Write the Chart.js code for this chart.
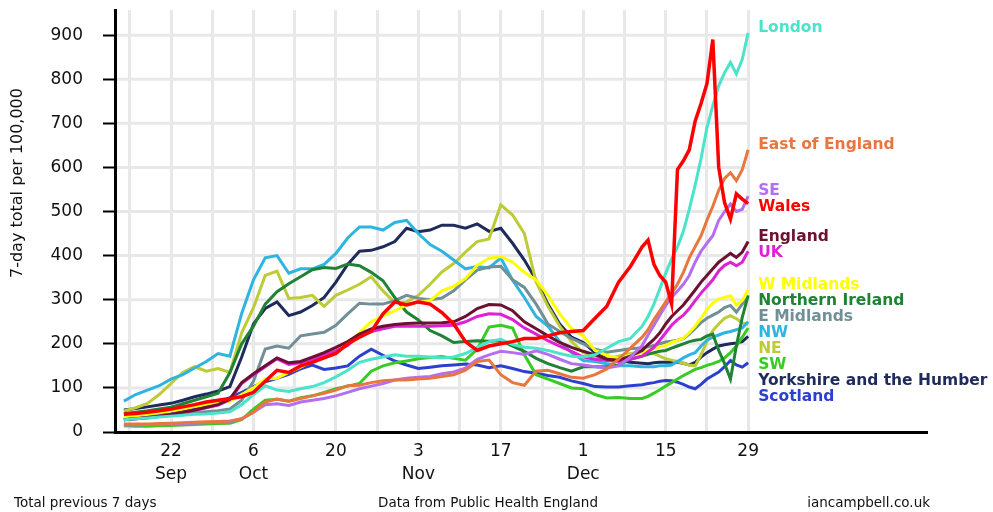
<!DOCTYPE html>
<html><head><meta charset="utf-8">
<script src="https://cdn.jsdelivr.net/npm/chart.js@4.4.1/dist/chart.umd.min.js"></script>
<style>html,body{margin:0;padding:0;background:#fff;}#wrap{width:993px;height:512px;position:relative;}</style>
</head><body><div id="wrap"><canvas id="c" width="993" height="512"></canvas></div>
<script>
// x values: days since 1 Sep 2020 (2-day steps to 9 Dec, then daily to 29 Dec)
const days = [13,15,17,19,21,23,25,27,29,31,33,35,37,39,41,43,45,47,49,51,53,55,57,59,61,63,65,67,69,71,73,75,77,79,81,83,85,87,89,91,93,95,97,99,
  101,102,103,104,105,106,107,108,109,110,111,112,113,114,115,116,117,118,119];

const london = [28,30,32,34,36,38,40,41,43,46,62,85,105,95,92,98,103,112,125,140,158,165,170,175,172,172,170,168,170,178,192,205,210,198,192,190,185,178,172,170,175,190,205,212,
  240,262,290,325,360,392,420,455,505,560,620,690,740,785,815,838,812,845,905];
const wales = [40,42,45,48,52,57,62,68,72,76,80,90,115,140,135,150,158,168,178,200,215,228,268,295,288,295,290,271,245,205,185,195,200,205,212,212,218,225,228,230,258,285,340,375,
  420,435,380,355,340,290,595,615,640,705,745,790,890,600,520,483,540,528,518];
const eastOfEngland = [18,18,18,19,20,21,22,23,24,25,30,45,68,75,70,76,82,88,95,105,106,112,116,118,118,120,122,126,130,140,160,163,130,112,106,138,140,132,124,122,130,143,165,190,
  215,232,255,275,295,315,335,362,395,420,445,480,512,548,575,588,570,595,640];
const southEast = [16,16,17,17,18,19,20,21,22,23,30,45,62,64,60,68,72,76,82,90,98,104,110,118,122,124,126,132,136,145,165,175,183,180,176,184,176,165,155,152,148,145,150,170,
  196,220,242,265,287,305,320,335,355,385,410,428,445,480,500,517,500,505,535];
const england = [28,30,33,36,40,45,50,56,62,75,112,132,150,168,157,160,170,180,192,205,222,234,240,244,246,247,247,248,250,262,280,289,288,275,250,234,218,203,192,183,175,165,163,172,
  185,198,210,225,245,262,275,288,305,322,340,355,370,385,395,405,396,408,432];
const uk = [28,30,32,35,39,44,49,55,61,73,110,130,148,166,153,157,165,174,184,196,220,228,234,240,240,240,240,241,242,250,262,268,267,255,236,222,207,195,183,170,165,162,160,165,
  172,182,192,208,225,242,255,265,280,298,315,330,345,365,378,385,377,385,410];
const wMidlands = [35,37,40,44,48,52,58,62,66,70,85,100,120,122,135,147,160,170,185,200,225,250,263,275,288,294,298,320,330,348,378,394,398,385,362,345,310,268,235,218,185,174,167,174,
  181,185,189,193,196,203,208,213,225,240,258,278,292,302,305,309,288,298,322];
const northernIreland = [42,45,48,52,56,64,72,80,88,135,200,240,290,318,336,352,368,373,371,381,377,362,343,305,272,254,230,218,203,205,207,206,207,195,183,167,155,146,138,148,148,148,152,165,
  172,176,180,183,185,190,195,200,205,208,210,218,222,185,155,120,195,260,310];
const eMidlands = [32,34,36,38,40,42,44,46,48,52,72,115,188,195,190,218,222,226,242,268,292,290,290,298,310,303,300,304,320,345,367,374,376,345,328,290,245,228,212,200,188,181,185,189,
  191,193,196,200,204,206,208,212,222,235,248,258,265,272,282,287,272,290,305];
const northWest = [70,85,95,105,120,130,145,160,178,172,269,345,395,400,360,370,370,380,405,440,465,465,458,475,480,450,425,410,390,370,375,372,395,344,305,262,240,205,180,162,160,155,150,150,
  148,148,148,150,150,152,160,168,175,180,195,208,215,220,225,228,232,236,250];
const northEast = [48,55,65,85,110,135,148,138,144,135,225,282,355,365,303,305,310,285,310,322,335,352,320,293,295,310,335,363,382,408,432,438,515,492,450,340,285,240,205,180,172,166,172,178,
  181,180,178,172,166,163,160,156,152,150,175,205,230,245,258,264,257,247,244];
const southWest = [14,13,13,14,15,16,17,18,19,20,28,52,72,74,70,78,82,90,98,104,110,138,150,157,161,166,169,171,167,163,188,238,242,236,175,130,120,110,100,98,85,77,78,76,
  76,81,88,96,104,112,120,128,135,142,146,151,155,160,168,180,195,215,236];
const yorkshire = [50,53,57,61,65,72,80,86,93,103,170,245,280,295,264,272,287,305,340,380,410,412,420,432,462,454,458,469,469,462,472,455,462,428,390,345,290,245,215,203,180,166,162,158,
  156,155,157,158,158,158,158,156,152,158,170,180,188,195,198,200,202,205,217];
const scotland = [28,31,35,38,41,46,52,57,65,78,90,103,114,122,131,143,152,142,145,150,172,188,174,161,152,144,147,150,152,154,152,146,150,144,137,133,128,124,116,110,103,102,102,105,
  107,110,112,115,117,116,113,108,102,98,108,120,128,136,148,162,152,147,157];

const seriesNames = ['Wales','London','East of England','SE','England','UK','W Midlands','Northern Ireland','E Midlands','NW','NE','SW','Yorkshire and the Humber','Scotland'];
const seriesValues = [wales,london,eastOfEngland,southEast,england,uk,wMidlands,northernIreland,eMidlands,northWest,northEast,southWest,yorkshire,scotland];
const seriesColors = ['#FF0000','#4BE3C9','#E8773F','#B56EF0','#6C1131','#DD22D6','#FFFF00','#1F8234','#708F96','#2EB4E0','#BCCB36','#37CB24','#1E2B5B','#2C40CF'];

const gridDays = [14,21,28,35,42,49,56,63,70,77,84,91,98,105,112,119];
const xTickDays = [21,35,49,63,77,91,105,119];
const xTickLabels = [['22','Sep'],['6','Oct'],['20'],['3','Nov'],['17'],['1','Dec'],['15'],['29']];
const yTicks = [0,100,200,300,400,500,600,700,800,900];
const yTitle = '7-day total per 100,000';
const footerLeft = 'Total previous 7 days';
const footerCenter = 'Data from Public Health England';
const footerRight = 'iancampbell.co.uk';

const FONT = '"DejaVu Sans", Verdana, sans-serif';

const hGrid = {
  id: 'hGrid',
  beforeDatasetsDraw(chart) {
    const {ctx, chartArea, scales: {x, y}} = chart;
    const xr = x.getPixelForValue(gridDays[gridDays.length - 1]) + 1.5;
    ctx.save();
    ctx.strokeStyle = '#e8e8e8';
    ctx.lineWidth = 3;
    yTicks.forEach(v => {
      if (v === 0) return;
      const py = y.getPixelForValue(v);
      ctx.beginPath(); ctx.moveTo(chartArea.left + 2, py); ctx.lineTo(xr, py); ctx.stroke();
    });
    ctx.restore();
  }
};

const endLabels = {
  id: 'endLabels',
  afterDatasetsDraw(chart) {
    const {ctx, scales: {x, y}} = chart;
    const items = chart.data.datasets.map(ds => {
      const last = ds.data[ds.data.length - 1];
      return {text: ds.label, color: ds.borderColor, x: x.getPixelForValue(last.x) + 10, y: y.getPixelForValue(last.y) - 5, v: last.y};
    }).sort((a, b) => b.v - a.v);
    let prev = -Infinity;
    items.forEach(it => { if (it.y < prev + 16) it.y = prev + 16; prev = it.y; });
    ctx.save();
    ctx.font = 'bold 15.5px ' + FONT;
    ctx.textBaseline = 'middle';
    ctx.textAlign = 'left';
    items.forEach(it => { ctx.fillStyle = it.color; ctx.fillText(it.text, it.x, it.y); });
    ctx.restore();
  }
};

const extras = {
  id: 'extras',
  afterDraw(chart) {
    const {ctx, chartArea} = chart;
    ctx.save();
    ctx.fillStyle = '#111';
    ctx.font = '16px ' + FONT;
    ctx.textAlign = 'center';
    ctx.textBaseline = 'middle';
    ctx.translate(18, 183);
    ctx.rotate(-Math.PI / 2);
    ctx.fillText(yTitle, 0, 0);
    ctx.restore();
    ctx.save();
    ctx.fillStyle = '#111';
    ctx.font = '13.5px ' + FONT;
    ctx.textBaseline = 'middle';
    ctx.textAlign = 'left';
    ctx.fillText(footerLeft, 14, 503);
    ctx.textAlign = 'center';
    ctx.fillText(footerCenter, 488, 503);
    ctx.textAlign = 'right';
    ctx.fillText(footerRight, chartArea.right + 4, 503);
    ctx.restore();
  }
};

new Chart(document.getElementById('c'), {
  type: 'line',
  data: {
    datasets: seriesNames.map((name, i) => ({
      label: name,
      data: days.map((d, j) => ({x: d, y: seriesValues[i][j]})),
      borderColor: seriesColors[i],
      backgroundColor: seriesColors[i],
      borderWidth: name === 'Wales' ? 3.5 : 3,
      pointRadius: 0,
      tension: 0,
      fill: false
    }))
  },
  options: {
    responsive: false,
    animation: false,
    layout: {padding: {top: 10, right: 67, left: 0, bottom: 0}},
    plugins: {legend: {display: false}, tooltip: {enabled: false}},
    scales: {
      x: {
        type: 'linear', min: 11.49, max: 149.2,
        afterBuildTicks: s => { s.ticks = gridDays.map(v => ({value: v})); },
        afterFit: s => { s.height = 80; s.paddingLeft = 0; s.paddingRight = 0; s.paddingTop = 0; s.paddingBottom = 0; },
        grid: {color: '#e8e8e8', lineWidth: 3, drawTicks: false},
        border: {color: '#000', width: 3},
        ticks: {
          autoSkip: false, maxRotation: 0, minRotation: 0, padding: 9,
          font: {family: FONT, size: 17, lineHeight: 1.3}, color: '#111',
          callback: v => { const i = xTickDays.indexOf(v); return i >= 0 ? xTickLabels[i] : ''; }
        }
      },
      y: {
        min: 0, max: 957,
        afterBuildTicks: s => { s.ticks = yTicks.map(v => ({value: v})); },
        afterFit: s => { s.width = 115; s.paddingTop = 0; s.paddingBottom = 0; s.paddingLeft = 0; s.paddingRight = 0; },
        grid: {drawOnChartArea: false, drawTicks: true, tickLength: 12, tickColor: '#000', tickWidth: 2},
        border: {color: '#000', width: 3},
        ticks: {padding: 20, font: {family: FONT, size: 17}, color: '#111'}
      }
    }
  },
  plugins: [hGrid, endLabels, extras]
});
</script>
</body></html>
